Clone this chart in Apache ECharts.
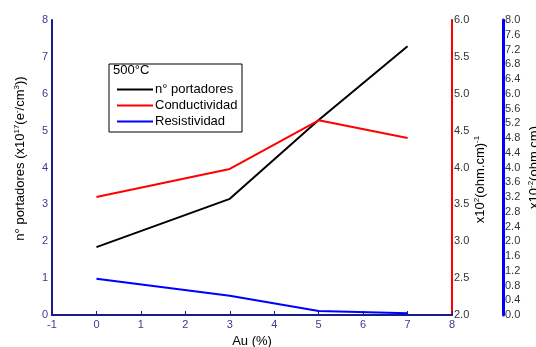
<!DOCTYPE html>
<html>
<head>
<meta charset="utf-8">
<script src="https://cdn.jsdelivr.net/npm/echarts@6/dist/echarts.min.js"></script>
<style>
  html, body { margin: 0; padding: 0; background: #fff; }
  #chart { width: 536px; height: 347px; }
</style>
</head>
<body>
<div id="chart"></div>
<script>
// Au content (%) of the samples annealed at 500°C
const auPct = [0, 3, 5, 7];
// carrier density, x10^17 e-/cm3
const portadores = [1.84, 3.15, 5.29, 7.29];
// conductivity, x10^2 (ohm.cm)^-1
const conductividad = [3.60, 3.98, 4.64, 4.40];
// resistivity, x10^-2 ohm.cm
const resistividad = [0.98, 0.52, 0.11, 0.05];

const seriesNames = ['n° portadores', 'Conductividad', 'Resistividad'];
const seriesColors = ['#000000', '#ff0000', '#0000ff'];

const FONT = '"Liberation Sans", Arial, sans-serif';
const NAVY = '#1a1a8c';

const pairs = vals => auPct.map((x, i) => [x, vals[i]]);

// rich styles for axis titles with superscripts
const sup = {
  a: { fontSize: 13, fontFamily: FONT, color: '#000', lineHeight: 15 },
  s: { fontSize: 8, fontFamily: FONT, color: '#000', lineHeight: 9, verticalAlign: 'top' }
};

const chart = echarts.init(document.getElementById('chart'), null, { renderer: 'canvas' });

chart.setOption({
  animation: false,
  backgroundColor: '#fff',
  grid: { left: 52, right: 84, top: 20, bottom: 32, outerBoundsMode: 'none', containLabel: false },
  textStyle: { fontFamily: FONT },
  legend: {
    data: seriesNames,
    orient: 'vertical',
    left: 112,
    top: 78,
    icon: 'rect',
    itemWidth: 36,
    itemHeight: 2,
    itemGap: 3,
    textStyle: { fontSize: 13, fontFamily: FONT, color: '#000', padding: [0, 0, 0, -3] },
    selectedMode: false
  },
  graphic: [
    {
      type: 'rect',
      shape: { x: 109, y: 64, width: 133, height: 68 },
      style: { fill: 'none', stroke: '#000', lineWidth: 1 },
      z: 10
    },
    {
      type: 'text',
      left: 113,
      top: 64,
      style: { text: '500°C', font: '13px ' + FONT, fill: '#000' },
      z: 10
    }
  ],
  xAxis: {
    type: 'value',
    min: -1,
    max: 8,
    interval: 1,
    name: 'Au (%)',
    nameLocation: 'middle',
    nameGap: 20,
    nameMoveOverlap: false,
    nameTextStyle: { fontSize: 13, fontFamily: FONT, color: '#000' },
    axisLine: { onZero: false, lineStyle: { color: NAVY, width: 2 } },
    axisTick: { inside: true, length: 4, lineStyle: { color: NAVY } },
    axisLabel: { fontSize: 11, color: '#3b3b8f', margin: 4 },
    splitLine: { show: false }
  },
  yAxis: [
    {
      type: 'value',
      position: 'left',
      min: 0,
      max: 8,
      interval: 1,
      name: '{a|n° portadores (x10}{s|17}{a|(e}{s|-}{a|/cm}{s|3}{a|))}',
      nameLocation: 'middle',
      nameGap: 24,
      nameRotate: 90,
      nameMoveOverlap: false,
      nameTextStyle: { rich: sup, padding: [0, 0, 0, 18] },
      axisLine: { show: true, onZero: false, lineStyle: { color: NAVY, width: 2 } },
      axisTick: { show: false },
      axisLabel: { fontSize: 11, color: '#3b3b8f', margin: 4 },
      splitLine: { show: false }
    },
    {
      type: 'value',
      position: 'right',
      min: 2,
      max: 6,
      interval: 0.5,
      name: '{a|x10}{s|2}{a|(ohm.cm)}{s|-1}',
      nameLocation: 'middle',
      nameGap: 21,
      nameRotate: 90,
      nameMoveOverlap: false,
      nameTextStyle: { rich: sup, padding: [0, 24, 0, 0] },
      axisLine: { show: true, onZero: false, lineStyle: { color: '#ff0000', width: 2 } },
      axisTick: { show: false },
      axisLabel: { fontSize: 11, color: '#333', margin: 2, formatter: v => v.toFixed(1) },
      splitLine: { show: false }
    },
    {
      type: 'value',
      position: 'right',
      offset: 51,
      min: 0,
      max: 8,
      interval: 0.4,
      name: '{a|x10}{s|-2}{a|(ohm.cm)}',
      nameLocation: 'middle',
      nameGap: 24,
      nameRotate: 90,
      nameMoveOverlap: false,
      nameTextStyle: { rich: sup },
      axisLine: { show: true, onZero: false, lineStyle: { color: '#0000ff', width: 3 } },
      axisTick: { show: false },
      axisLabel: { fontSize: 11, color: '#333', margin: 2, formatter: v => v.toFixed(1) },
      splitLine: { show: false }
    }
  ],
  series: [
    {
      name: seriesNames[0],
      type: 'line',
      yAxisIndex: 0,
      data: pairs(portadores),
      showSymbol: false,
      lineStyle: { color: seriesColors[0], width: 2 },
      itemStyle: { color: seriesColors[0] }
    },
    {
      name: seriesNames[1],
      type: 'line',
      yAxisIndex: 1,
      data: pairs(conductividad),
      showSymbol: false,
      lineStyle: { color: seriesColors[1], width: 2 },
      itemStyle: { color: seriesColors[1] }
    },
    {
      name: seriesNames[2],
      type: 'line',
      yAxisIndex: 2,
      data: pairs(resistividad),
      showSymbol: false,
      lineStyle: { color: seriesColors[2], width: 2 },
      itemStyle: { color: seriesColors[2] }
    }
  ]
});
</script>
</body>
</html>
